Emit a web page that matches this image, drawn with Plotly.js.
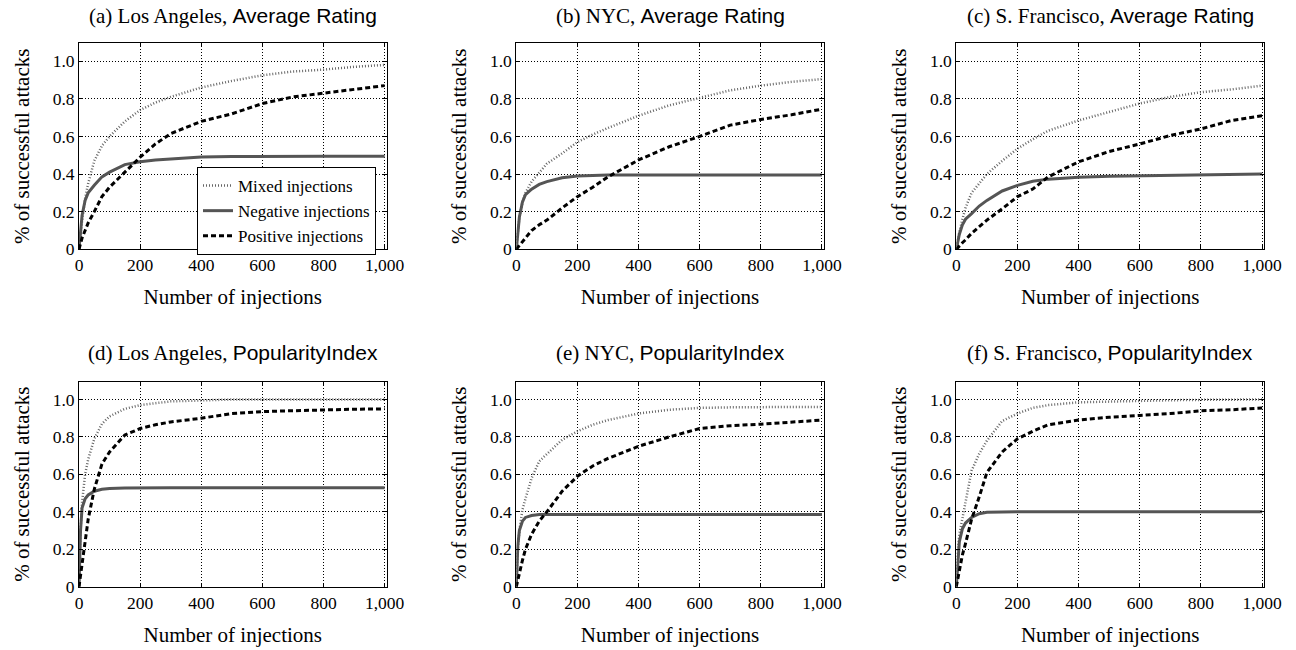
<!DOCTYPE html>
<html>
<head>
<meta charset="utf-8">
<script src="https://cdn.plot.ly/plotly-3.0.1.min.js"></script>
<style>html,body{margin:0;padding:0;background:#fff;}#chart{width:1296px;height:650px;}</style>
</head>
<body>
<div id="chart"></div>
<script>
// Shared x grid (number of injections)
const injections = [0, 5, 10, 20, 30, 50, 75, 100, 150, 200, 250, 300, 400, 500, 600, 700, 800, 900, 1000];

const seriesNames = ["Mixed injections", "Negative injections", "Positive injections"];
const xTickVals = [0, 200, 400, 600, 800, 1000];
const xTickLabels = ["0", "200", "400", "600", "800", "1,000"];
const yTickVals = [0, 0.2, 0.4, 0.6, 0.8, 1.0];
const yTickLabels = ["0", "0.2", "0.4", "0.6", "0.8", "1.0"];

const cities = ["Los Angeles", "NYC", "S. Francisco", "Los Angeles", "NYC", "S. Francisco"];
const metrics = ["Average Rating", "Average Rating", "Average Rating", "PopularityIndex", "PopularityIndex", "PopularityIndex"];
const panelLetters = ["a", "b", "c", "d", "e", "f"];

// (a) Los Angeles, Average Rating
const laRatingMixed    = [0, 0.08, 0.15, 0.27, 0.35, 0.47, 0.55, 0.60, 0.68, 0.74, 0.78, 0.81, 0.86, 0.895, 0.925, 0.945, 0.955, 0.97, 0.98];
const laRatingNegative = [0, 0.10, 0.18, 0.26, 0.30, 0.34, 0.385, 0.41, 0.45, 0.465, 0.475, 0.48, 0.49, 0.493, 0.495, 0.495, 0.495, 0.495, 0.495];
const laRatingPositive = [0, 0.03, 0.06, 0.10, 0.14, 0.20, 0.28, 0.33, 0.41, 0.49, 0.56, 0.615, 0.68, 0.72, 0.775, 0.81, 0.83, 0.85, 0.87];
// (b) NYC, Average Rating
const nycRatingMixed    = [0, 0.10, 0.17, 0.25, 0.30, 0.36, 0.41, 0.455, 0.51, 0.57, 0.61, 0.645, 0.71, 0.765, 0.805, 0.845, 0.87, 0.89, 0.905];
const nycRatingNegative = [0, 0.10, 0.17, 0.25, 0.29, 0.32, 0.345, 0.36, 0.38, 0.39, 0.393, 0.395, 0.395, 0.395, 0.395, 0.395, 0.395, 0.395, 0.395];
const nycRatingPositive = [0, 0.01, 0.02, 0.04, 0.06, 0.10, 0.13, 0.155, 0.22, 0.28, 0.33, 0.385, 0.475, 0.545, 0.60, 0.66, 0.69, 0.715, 0.745];
// (c) S. Francisco, Average Rating
const sfRatingMixed    = [0, 0.05, 0.09, 0.16, 0.22, 0.30, 0.35, 0.40, 0.47, 0.535, 0.585, 0.63, 0.685, 0.73, 0.775, 0.81, 0.835, 0.85, 0.87];
const sfRatingNegative = [0, 0.04, 0.08, 0.13, 0.16, 0.19, 0.23, 0.26, 0.31, 0.34, 0.362, 0.373, 0.383, 0.388, 0.39, 0.393, 0.395, 0.398, 0.40];
const sfRatingPositive = [0, 0.01, 0.02, 0.035, 0.05, 0.085, 0.12, 0.155, 0.215, 0.28, 0.32, 0.385, 0.465, 0.52, 0.56, 0.605, 0.64, 0.685, 0.71];
// (d) Los Angeles, PopularityIndex
const laPopMixed    = [0, 0.30, 0.45, 0.60, 0.68, 0.79, 0.87, 0.91, 0.95, 0.97, 0.98, 0.99, 0.995, 1.0, 1.0, 1.0, 1.0, 1.0, 1.0];
const laPopNegative = [0, 0.30, 0.42, 0.47, 0.49, 0.51, 0.52, 0.525, 0.527, 0.528, 0.528, 0.528, 0.528, 0.528, 0.528, 0.528, 0.528, 0.528, 0.528];
const laPopPositive = [0, 0.06, 0.14, 0.26, 0.36, 0.52, 0.655, 0.72, 0.81, 0.845, 0.865, 0.88, 0.90, 0.925, 0.935, 0.94, 0.945, 0.948, 0.95];
// (e) NYC, PopularityIndex
const nycPopMixed    = [0, 0.20, 0.30, 0.41, 0.47, 0.58, 0.67, 0.71, 0.785, 0.83, 0.865, 0.89, 0.925, 0.945, 0.955, 0.958, 0.96, 0.96, 0.96];
const nycPopNegative = [0, 0.22, 0.30, 0.35, 0.37, 0.38, 0.385, 0.385, 0.385, 0.385, 0.385, 0.385, 0.385, 0.385, 0.385, 0.385, 0.385, 0.385, 0.385];
const nycPopPositive = [0, 0.04, 0.08, 0.14, 0.20, 0.28, 0.35, 0.40, 0.51, 0.59, 0.645, 0.685, 0.75, 0.80, 0.845, 0.86, 0.868, 0.878, 0.89];
// (f) S. Francisco, PopularityIndex
const sfPopMixed    = [0, 0.20, 0.28, 0.37, 0.46, 0.62, 0.71, 0.78, 0.885, 0.925, 0.955, 0.97, 0.985, 0.99, 0.993, 0.996, 0.998, 1.0, 1.0];
const sfPopNegative = [0, 0.15, 0.24, 0.31, 0.34, 0.37, 0.39, 0.398, 0.40, 0.40, 0.40, 0.40, 0.40, 0.40, 0.40, 0.40, 0.40, 0.40, 0.40];
const sfPopPositive = [0, 0.04, 0.09, 0.17, 0.23, 0.36, 0.48, 0.61, 0.72, 0.79, 0.83, 0.865, 0.89, 0.905, 0.915, 0.925, 0.94, 0.945, 0.955];

const panels = [
  [laRatingMixed, laRatingNegative, laRatingPositive],
  [nycRatingMixed, nycRatingNegative, nycRatingPositive],
  [sfRatingMixed, sfRatingNegative, sfRatingPositive],
  [laPopMixed, laPopNegative, laPopPositive],
  [nycPopMixed, nycPopNegative, nycPopPositive],
  [sfPopMixed, sfPopNegative, sfPopPositive]
];

const serif = "Liberation Serif, Times New Roman, serif";
const sans = "Liberation Sans, Arial, sans-serif";
const lineStyles = [
  {color: "#666666", width: 2.5, dash: "1px,2px"},
  {color: "#555555", width: 3, dash: "solid"},
  {color: "#000000", width: 3, dash: "5px,3px"}
];

const W = 1296, H = 650;
const colPx = [[79, 386.5], [516.3, 823.8], [956.3, 1264]];
const rowPx = [[43.3, 249.3], [381.7, 586.7]];
const titleY = [15.7, 353];

const traces = [];
const layout = {
  width: W, height: H,
  margin: {l: 0, r: 0, t: 0, b: 0},
  paper_bgcolor: "#fff", plot_bgcolor: "#fff",
  showlegend: true,
  legend: {
    x: 197 / W, y: 1 - 167 / H, xanchor: "left", yanchor: "top",
    bordercolor: "#000", borderwidth: 1, bgcolor: "#fff",
    font: {family: serif, size: 17, color: "#000"},
    itemwidth: 30, tracegroupgap: 0
  },
  annotations: []
};

panels.forEach((series, i) => {
  const col = i % 3, row = Math.floor(i / 3);
  const n = i + 1;
  const xa = "xaxis" + (n === 1 ? "" : n), ya = "yaxis" + (n === 1 ? "" : n);
  const xr = "x" + (n === 1 ? "" : n), yr = "y" + (n === 1 ? "" : n);
  series.forEach((vals, s) => {
    traces.push({
      type: "scatter", mode: "lines",
      x: injections, y: vals,
      xaxis: xr, yaxis: yr,
      name: seriesNames[s],
      showlegend: i === 0,
      line: lineStyles[s],
      hoverinfo: "skip"
    });
  });
  const common = {
    showline: true, linecolor: "#000", linewidth: 1, mirror: "allticks",
    ticks: "inside", ticklen: 4, tickcolor: "#000", tickwidth: 1,
    showgrid: true, gridcolor: "#000", gridwidth: 1, griddash: "1px,2px",
    zeroline: false, fixedrange: true, automargin: false,
    tickfont: {family: serif, size: 17.5, color: "#000"}
  };
  layout[xa] = Object.assign({}, common, {
    domain: [colPx[col][0] / W, colPx[col][1] / W],
    anchor: yr, range: [0, 1006],
    tickmode: "array", tickvals: xTickVals, ticktext: xTickLabels,
    title: {text: "Number of injections", standoff: 15, font: {family: serif, size: 21, color: "#000"}}
  });
  layout[ya] = Object.assign({}, common, {
    domain: [1 - rowPx[row][1] / H, 1 - rowPx[row][0] / H],
    anchor: xr, range: [0, 1.095],
    tickmode: "array", tickvals: yTickVals, ticktext: yTickLabels,
    title: {text: "% of successful attacks", standoff: 17, font: {family: serif, size: 21, color: "#000"}}
  });
  layout.annotations.push({
    xref: "paper", yref: "paper",
    x: (colPx[col][0] + colPx[col][1]) / 2 / W, y: 1 - titleY[row] / H,
    xanchor: "center", yanchor: "middle", showarrow: false,
    text: "(" + panelLetters[i] + ") " + cities[i] + ", <span style=\"font-family:" + sans + "\">" + metrics[i] + "</span>",
    font: {family: serif, size: 21, color: "#000"}
  });
});

Plotly.newPlot("chart", traces, layout, {staticPlot: true, displayModeBar: false});
</script>
</body>
</html>
